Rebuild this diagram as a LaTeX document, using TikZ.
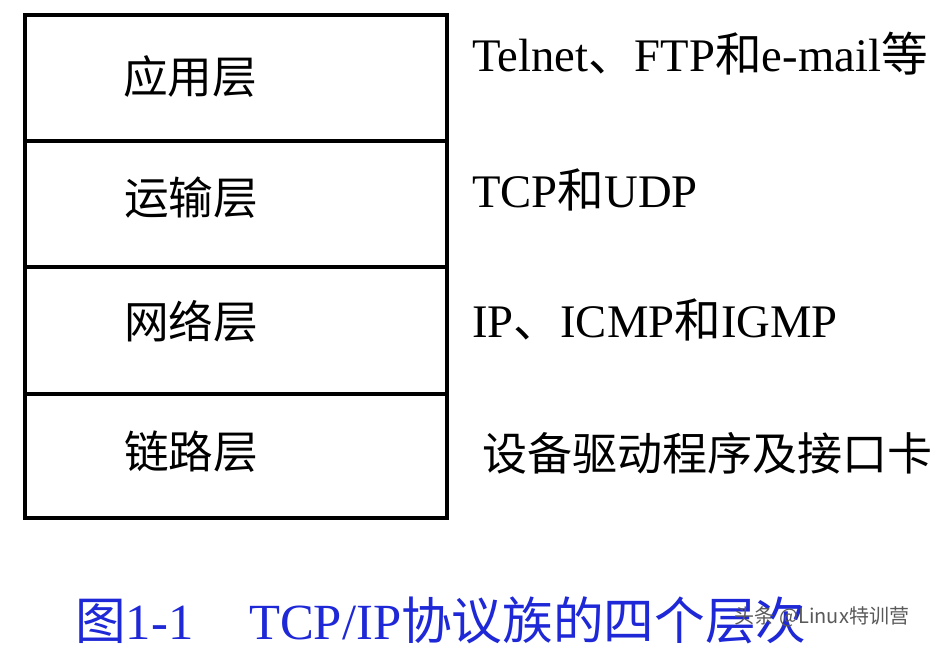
\documentclass[tikz,border=0pt]{standalone}
\usepackage{fontspec}
\setmainfont{Liberation Serif}
\newfontfamily\cjk{Noto Sans CJK SC}
\definecolor{capblue}{RGB}{30,40,215}
\begin{document}
\begin{tikzpicture}[x=0.75pt,y=-0.75pt,
  layerline/.style={line width=2.6pt,line cap=rect},
  layerlabel/.style={inner sep=0pt,anchor=center,font=\cjk\fontsize{33.5pt}{36pt}\selectfont},
  proto/.style={inner sep=0pt,anchor=base west,font=\fontsize{35pt}{38pt}\selectfont},
  protocjk/.style={inner sep=0pt,anchor=west,font=\cjk\fontsize{33.8pt}{36pt}\selectfont},
  caption/.style={inner sep=0pt,anchor=base west,text=capblue,font=\fontsize{38pt}{42pt}\selectfont},
  wm/.style={inner sep=0pt,anchor=center,text=black!65,font=\cjk\fontsize{15pt}{17pt}\selectfont}]
\useasboundingbox (0,0) rectangle (944,652);
% layer stack
\coordinate (tl) at (25,15);
\coordinate (br) at (447,518);
\draw[layerline] (tl) rectangle (br);
\draw[layerline] (25,141) -- (447,141);
\draw[layerline] (25,267) -- (447,267);
\draw[layerline] (25,394) -- (447,394);
% layer names
\node[layerlabel] (app) at (190,77) {应用层};
\node[layerlabel] (trans) at (191,198) {运输层};
\node[layerlabel] (net) at (191,321) {网络层};
\node[layerlabel] (link) at (191,452) {链路层};
% protocols
\node[proto] (p1) at (472,72) {Telnet{\cjk 、}FTP{\cjk 和}e-mail{\cjk 等}};
\node[proto] (p2) at (472,207) {TCP{\cjk 和}UDP};
\node[proto] (p3) at (472,337) {IP{\cjk 、}ICMP{\cjk 和}IGMP};
\node[protocjk] (p4) at (482,453) {设备驱动程序及接口卡};
% caption
\node[caption] (cap) at (75,639) {{\cjk 图}1-1\hspace{1.1em}TCP/IP{\cjk 协议族的四个层次}};
% watermark
\node[wm] (wmark) at (822,617) {头条 @Linux特训营};
\end{tikzpicture}
\end{document}
